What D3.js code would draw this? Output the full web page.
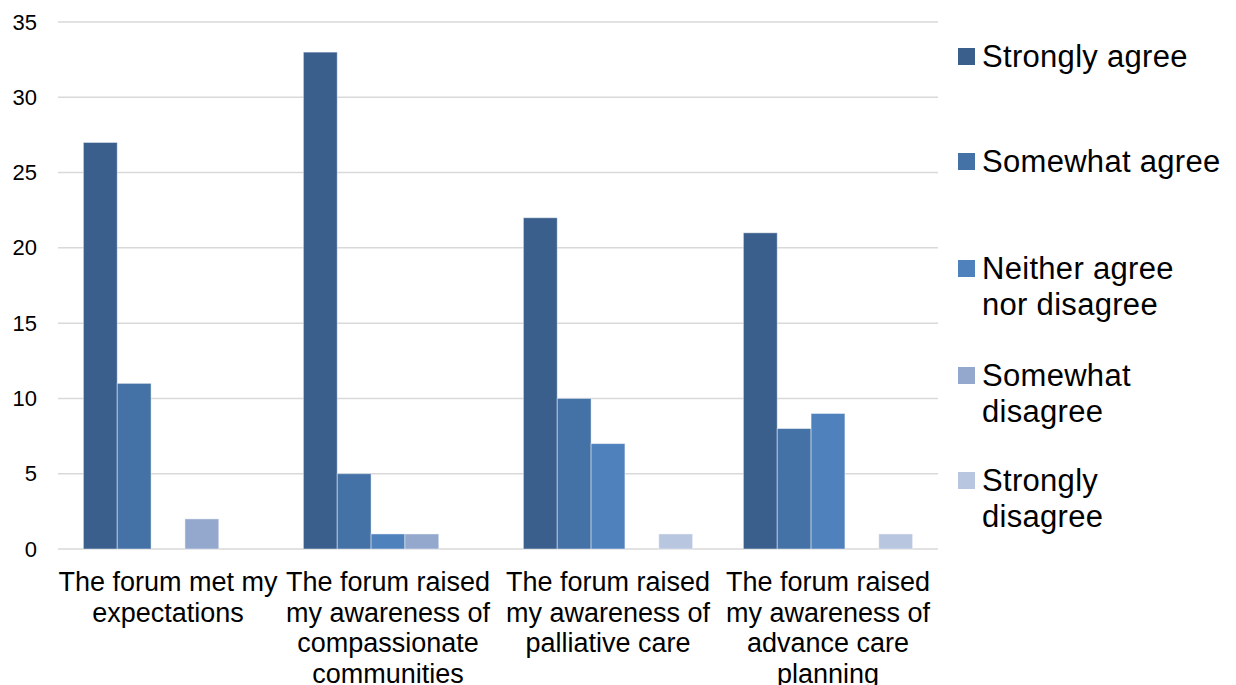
<!DOCTYPE html>
<html>
<head>
<meta charset="utf-8">
<script src="https://cdn.jsdelivr.net/npm/d3@7"></script>
<style>
  html, body { margin: 0; padding: 0; background: #ffffff; }
  svg { display: block; font-family: "Liberation Sans", Arial, sans-serif; }
</style>
</head>
<body>
<svg id="chart" width="1236" height="685"></svg>
<script>
// Survey statements (x-axis categories), each split into display lines
const categories = [
  "The forum met my expectations",
  "The forum raised my awareness of compassionate communities",
  "The forum raised my awareness of palliative care",
  "The forum raised my awareness of advance care planning"
];
const categoryLines = [
  ["The forum met my", "expectations"],
  ["The forum raised", "my awareness of", "compassionate", "communities"],
  ["The forum raised", "my awareness of", "palliative care"],
  ["The forum raised", "my awareness of", "advance care", "planning"]
];

// Response options (series) and their legend lines
const seriesNames = ["Strongly agree", "Somewhat agree", "Neither agree nor disagree", "Somewhat disagree", "Strongly disagree"];
const legendLines = [
  ["Strongly agree"],
  ["Somewhat agree"],
  ["Neither agree", "nor disagree"],
  ["Somewhat", "disagree"],
  ["Strongly", "disagree"]
];
const seriesColors = ["#3a5f8d", "#4472a6", "#4f81bd", "#94a8ce", "#b9c6e0"];

// Number of respondents per response, one array per series (in category order)
const stronglyAgree    = [27, 33, 22, 21];
const somewhatAgree    = [11, 5, 10, 8];
const neitherAgree     = [0, 1, 7, 9];
const somewhatDisagree = [2, 1, 0, 0];
const stronglyDisagree = [0, 0, 1, 1];
const seriesValues = [stronglyAgree, somewhatAgree, neitherAgree, somewhatDisagree, stronglyDisagree];

// Y-axis ticks
const yTicks = [0, 5, 10, 15, 20, 25, 30, 35];

const svg = d3.select("#chart");
const plot = { left: 58, right: 938, top: 22, bottom: 549 };

const x0 = d3.scaleBand()
  .domain(categories)
  .range([plot.left, plot.right])
  .paddingInner(0)
  .paddingOuter(0);

const x1 = d3.scaleBand()
  .domain(seriesNames)
  .range([0, x0.bandwidth()])
  .paddingInner(0)
  .paddingOuter(0.75);

const y = d3.scaleLinear().domain([0, 35]).range([plot.bottom, plot.top]);

// Horizontal gridlines
svg.append("g")
  .selectAll("line")
  .data(yTicks)
  .join("line")
  .attr("x1", plot.left)
  .attr("x2", plot.right)
  .attr("y1", d => y(d))
  .attr("y2", d => y(d))
  .attr("stroke", "#d9d9d9")
  .attr("stroke-width", 1.5);

// Y-axis labels
const yAxis = d3.axisLeft(y).tickValues(yTicks).tickSize(0).tickPadding(0);
const yg = svg.append("g")
  .attr("transform", `translate(${plot.left - 21},0)`)
  .call(yAxis);
yg.select(".domain").remove();
yg.selectAll("text")
  .attr("font-size", 22)
  .attr("fill", "#000")
  .attr("font-family", "Liberation Sans, Arial, sans-serif");

// Bars
const groups = svg.append("g")
  .selectAll("g")
  .data(categories)
  .join("g")
  .attr("transform", d => `translate(${x0(d)},0)`);

groups.selectAll("rect")
  .data((d, ci) => seriesNames.map((s, si) => ({ s, si, v: seriesValues[si][ci] })))
  .join("rect")
  .filter(d => d.v > 0)
  .attr("x", d => x1(d.s))
  .attr("width", x1.bandwidth())
  .attr("y", d => y(d.v))
  .attr("height", d => y(0) - y(d.v))
  .attr("fill", d => seriesColors[d.si])
  .attr("stroke", "rgba(255,255,255,0.45)")
  .attr("stroke-width", 1);

// Category labels
const xl = svg.append("g");
categories.forEach((c, i) => {
  const cx = x0(c) + x0.bandwidth() / 2;
  const t = xl.append("text")
    .attr("x", cx)
    .attr("y", 591)
    .attr("text-anchor", "middle")
    .attr("font-size", 27)
    .attr("fill", "#000");
  categoryLines[i].forEach((line, k) => {
    t.append("tspan")
      .attr("x", cx)
      .attr("dy", k === 0 ? 0 : 30.5)
      .text(line);
  });
});

// Legend
const legendBaselines = [67, 172, 279, 386, 491];
const legend = svg.append("g");
seriesNames.forEach((s, i) => {
  const base = legendBaselines[i];
  legend.append("rect")
    .attr("x", 958)
    .attr("y", base - 19)
    .attr("width", 17)
    .attr("height", 17)
    .attr("fill", seriesColors[i]);
  const t = legend.append("text")
    .attr("x", 982)
    .attr("y", base)
    .attr("font-size", 31)
    .attr("letter-spacing", 0.3)
    .attr("fill", "#000");
  legendLines[i].forEach((line, k) => {
    t.append("tspan")
      .attr("x", 982)
      .attr("dy", k === 0 ? 0 : 36)
      .text(line);
  });
});
</script>
</body>
</html>
